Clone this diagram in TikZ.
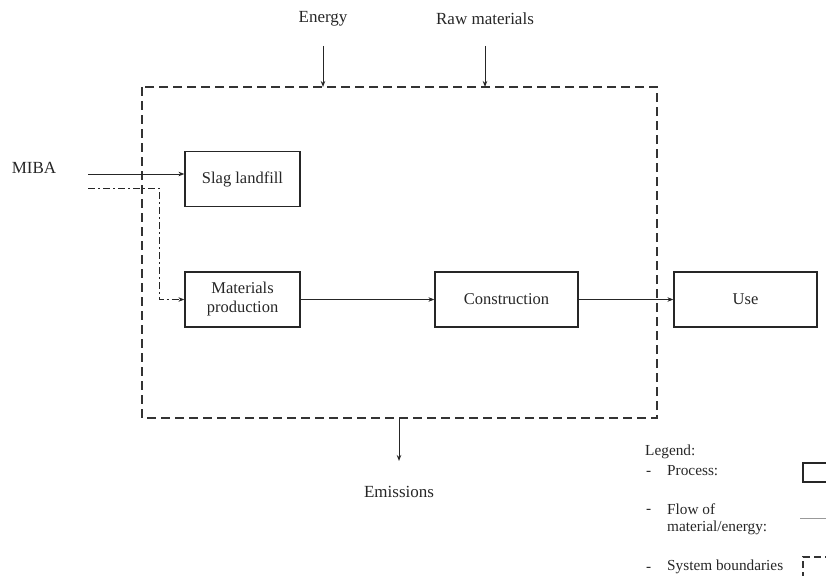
\documentclass[tikz,border=0pt]{standalone}
\usepackage{fontspec}
\setmainfont{Liberation Serif}
\usetikzlibrary{arrows.meta}
\begin{document}
\begin{tikzpicture}[x=1pt,y=-1pt,
  txt/.style={font=\fontsize{17}{20}\selectfont, text=black!85, inner sep=0pt},
  lgd/.style={font=\fontsize{15.3}{18}\selectfont, text=black!85, inner sep=0pt, anchor=west},
  procbox/.style={draw=black!85, line width=1.2pt, minimum width=115pt, minimum height=55pt,
    font=\fontsize{16.5}{19}\selectfont, text=black!85, align=center, inner sep=0pt},
  flow/.style={draw=black!85, line width=1pt, -{Stealth[length=6pt,width=4.5pt]}},
  mixflow/.style={flow, dash pattern=on 7pt off 3pt on 2pt off 3pt},
  boundary/.style={draw=black!80, line width=1.2pt, dash pattern=on 9pt off 5pt}]
\useasboundingbox (0,0) rectangle (826,575);

% system boundary
\draw[boundary] (142,87) rectangle (657,418);
\coordinate (eIn) at (323,87);
\coordinate (rIn) at (485,87);
\coordinate (emOut) at (399,418);

% processes
\node[procbox] (slag) at (242.5,179) {Slag landfill};
\node[procbox] (mp) at (242.5,299.5) {Materials\\production};
\node[procbox, minimum width=143pt] (con) at (506.5,299.5) {Construction};
\node[procbox, minimum width=143pt] (use) at (745.5,299.5) {Use};

% external flows
\node[txt] (energy) at (323,19) {Energy};
\node[txt] (raw) at (485,19) {Raw materials};
\node[txt] (miba) at (34,168) {MIBA};
\node[txt] (emis) at (399,492) {Emissions};
\coordinate (eTop) at (323,46);
\coordinate (rTop) at (485,46);
\coordinate (emEnd) at (399,461);
\coordinate (m1) at (88,174);
\coordinate (m2) at (88,188);
\coordinate (m3) at (159,188);

\draw[flow] (eTop) -- (eIn);
\draw[flow] (rTop) -- (rIn);
\draw[flow] (emOut) -- (emEnd);
\draw[flow] (m1) -- (m1 -| slag.west);
\draw[mixflow] (m2) -- (m3) |- (mp.west);
\draw[flow] (mp.east) -- (con.west);
\draw[flow] (con.east) -- (use.west);

% legend
\node[lgd] (lg) at (645,452) {Legend:};
\node[lgd] (d1) at (646,473) {-};
\node[lgd] (l1) at (667,471) {Process:};
\node[lgd] (d2) at (646,511) {-};
\node[lgd] (l2) at (667,509) {Flow of};
\node[lgd] (l2b) at (667,528) {material/energy:};
\node[lgd] (d3) at (646,569) {-};
\node[lgd] (l3) at (667,567) {System boundaries};
\draw[draw=black!85, line width=1.2pt] (803,463) rectangle (840,482);
\coordinate (fl1) at (800,518);
\coordinate (fl2) at (826,518);
\draw[draw=black!40, line width=0.6pt] (fl1) -- (fl2);
\draw[boundary, line width=1.2pt, dash pattern=on 7pt off 4pt] (803,590) |- (840,557);
\end{tikzpicture}
\end{document}
